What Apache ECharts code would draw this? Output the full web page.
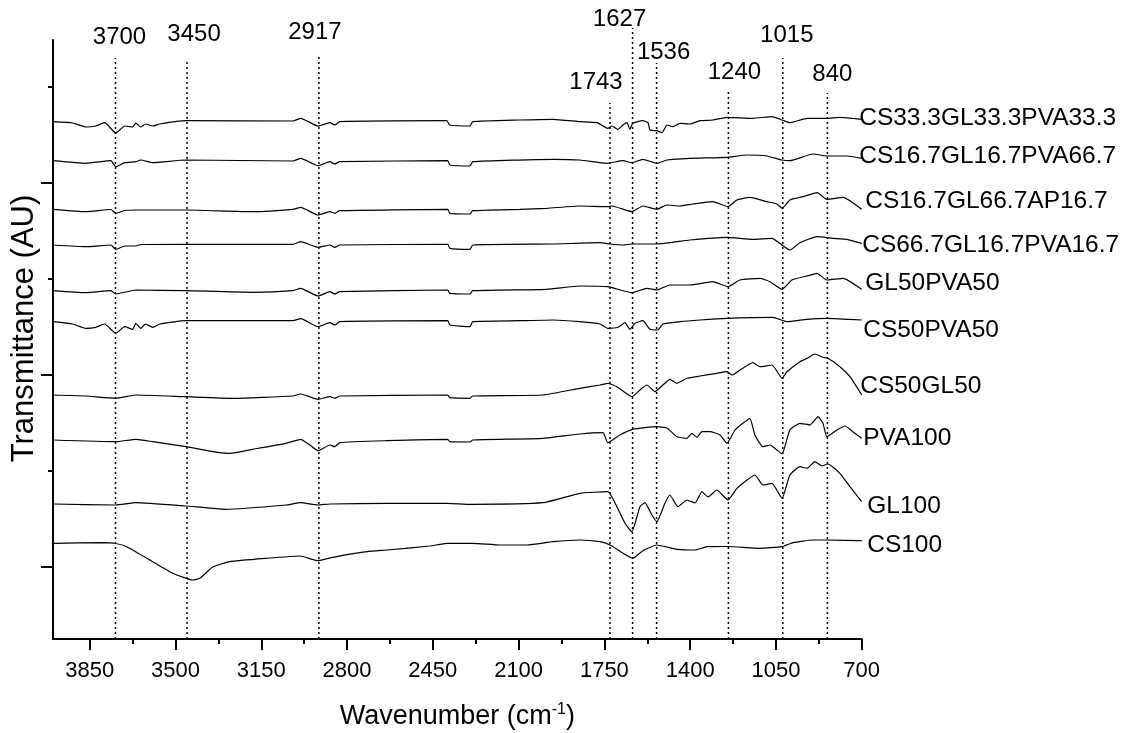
<!DOCTYPE html>
<html>
<head>
<meta charset="utf-8">
<script src="https://cdn.jsdelivr.net/npm/echarts@6/dist/echarts.min.js"></script>
<style>html,body{margin:0;padding:0;background:#fff}#c{width:1131px;height:733px}</style>
</head>
<body>
<div id="c"></div>
<script>
// ---- data (wavenumber cm-1, transmittance in stacked arbitrary units) ----
const seriesNames = ['CS33.3GL33.3PVA33.3','CS16.7GL16.7PVA66.7','CS16.7GL66.7AP16.7','CS66.7GL16.7PVA16.7','GL50PVA50','CS50PVA50','CS50GL50','PVA100','GL100','CS100'];

const cs333gl333pva333 = [[4000,445.3],[3920,444],[3866,440],[3826,441],[3789,444.3],[3744,434],[3707,441],[3675,440],[3662,444],[3642,440],[3622,443],[3593,441],[3564,443],[3458,446.3],[3021,446],[2989,448.7],[2919,441],[2870,444.3],[2850,442],[2830,445.3],[2393,446.3],[2381,442],[2299,441],[2287,445.3],[2095,447],[1960,447.7],[1850,445.3],[1780,444.3],[1736,438.7],[1719,441],[1695,437.7],[1674,442],[1658,444.3],[1646,437.7],[1634,443.7],[1593,446.3],[1572,444.3],[1564,437],[1536,436.3],[1515,434.3],[1495,442],[1470,440.3],[1442,443.7],[1401,443],[1360,446.3],[1307,447],[1250,449.7],[1144,448.7],[1066,450.3],[1025,447],[993,444.3],[923,448.7],[842,448.7],[789,449.7],[700,447.7]];

const cs167gl167pva667 = [[4000,406.3],[3866,403.7],[3764,406.3],[3744,400.3],[3707,404.3],[3662,405.3],[3642,407],[3593,404.3],[3458,407],[3021,406],[2989,408.7],[2919,401.3],[2870,405.3],[2850,403],[2830,405.3],[2389,406.3],[2381,402],[2299,401],[2287,405.3],[1960,407.7],[1850,407],[1740,403.7],[1674,406.3],[1638,404.3],[1593,407.7],[1536,403.7],[1495,407],[1401,408.7],[1250,409.7],[1168,412],[1087,411],[1025,407],[993,406.3],[899,413],[842,411],[760,411],[700,408.7]];

const cs167gl667ap167 = [[4000,357.7],[3866,355.3],[3764,357.5],[3744,353.7],[3707,356.5],[3662,357],[3458,357],[3185,355.3],[3021,357.7],[2989,359.7],[2919,352],[2870,355.3],[2850,353.7],[2830,356.3],[2389,357.7],[2381,353.7],[2299,353],[2287,356.3],[2095,357.7],[1985,358.7],[1850,361],[1736,360.3],[1719,361],[1638,355.3],[1593,361],[1536,357.7],[1495,362],[1442,361],[1389,363],[1307,365.3],[1246,360.3],[1209,367],[1156,369.7],[1087,365.3],[1046,363],[1025,358.7],[993,367],[940,370.3],[882,374.3],[842,367.7],[776,369.7],[700,357.7]];

const cs667gl167pva167 = [[4000,322],[3866,320.3],[3764,322],[3744,317.7],[3707,321],[3662,321],[3642,322.5],[3458,322.7],[3021,322.7],[2989,325.3],[2919,319.7],[2870,322],[2850,319.7],[2830,322],[2389,322.7],[2381,318.7],[2299,317.7],[2287,322],[1960,323],[1768,324.3],[1727,323],[1674,322],[1638,323],[1536,323],[1401,327],[1250,329.7],[1144,327.7],[1066,328.7],[1034,323.7],[993,317],[952,324.3],[882,330.3],[817,328.7],[760,327.7],[700,323.7]];

const gl50pva50 = [[4000,276.3],[3866,274.3],[3764,276.3],[3744,273],[3662,277],[3458,276.3],[3185,274.7],[3021,276.3],[2989,278.7],[2919,271],[2870,275.3],[2850,273],[2830,275.3],[2389,277],[2381,273.7],[2299,273],[2287,276.3],[1985,277.7],[1850,281],[1736,280.3],[1638,274.3],[1576,278.7],[1536,277],[1483,282],[1401,282],[1307,285.3],[1246,280.3],[1197,287],[1115,288.7],[1074,285.3],[1025,277.7],[985,287],[923,291],[882,293.7],[842,287],[776,288.7],[700,277.7]];

const cs50pva50 = [[4000,245.3],[3920,243],[3866,238.7],[3826,239.7],[3789,243],[3744,233.7],[3707,240.3],[3675,237.7],[3662,243.7],[3642,238.7],[3622,243],[3593,239.7],[3564,243],[3458,246.3],[3021,246.3],[2989,248.3],[2919,240.3],[2870,244.3],[2850,242],[2830,245.3],[2389,246.3],[2381,242],[2299,240.3],[2287,245.3],[2095,246.3],[1960,247],[1850,245.3],[1768,243],[1736,238.7],[1695,239.7],[1666,244.3],[1646,237.7],[1625,243.7],[1593,246.3],[1564,237.7],[1532,237],[1511,243],[1442,245.3],[1360,247],[1250,248.7],[1062,249.7],[1005,245.3],[923,247.7],[842,248.7],[700,247]];

const cs50gl50 = [[4000,172],[3866,171],[3744,168.7],[3662,172],[3458,170.3],[3266,168.7],[3021,171],[2989,173],[2919,167.7],[2870,170.3],[2850,168.7],[2830,171],[2389,172],[2381,169.3],[2299,168.7],[2287,171],[2001,172],[1850,178.7],[1768,182],[1736,183.7],[1699,180.3],[1638,170.3],[1597,178.7],[1576,182],[1544,175.3],[1511,182],[1483,187.7],[1454,183.7],[1413,188.7],[1360,191],[1291,193.7],[1250,195.3],[1229,192],[1197,197],[1144,204.3],[1115,200.3],[1066,202],[1025,188.7],[1005,195.3],[952,205.3],[923,208.7],[891,213],[858,209.7],[838,208.7],[789,200.3],[748,190.3],[700,172]];

const pva100 = [[4000,127],[3744,125.3],[3662,127.7],[3593,125.3],[3458,120.3],[3320,114.3],[3279,113.7],[3185,117.7],[3050,123.7],[2989,127.7],[2952,122],[2919,116.3],[2870,122],[2850,120.3],[2830,124.3],[2638,126.3],[2389,127.7],[2381,125.3],[2299,125],[2287,127],[2001,128.7],[1850,133],[1756,134.3],[1736,124.3],[1687,132],[1634,137.7],[1536,140.3],[1495,139],[1454,130.3],[1413,128.7],[1393,133.7],[1372,129.7],[1352,135.3],[1319,135.3],[1278,132],[1250,123.7],[1217,137],[1185,143.7],[1156,148.7],[1136,132],[1103,120.3],[1074,122],[1046,117],[1025,113],[993,137],[952,143.7],[911,142],[878,150.3],[858,143.7],[842,130.3],[801,137],[768,141],[736,135.3],[700,128.7]];

const gl100 = [[4000,63],[3744,62],[3662,64.3],[3458,61],[3295,57.7],[3050,62],[2989,64.3],[2919,62],[2870,63],[2638,63.7],[2389,63.7],[2299,62.7],[2001,64.3],[1850,73.7],[1736,75.3],[1699,60.3],[1666,43.7],[1638,35.3],[1605,60.3],[1585,64.3],[1556,52],[1536,45.3],[1503,63.7],[1483,72],[1450,60.3],[1413,67],[1380,64],[1352,75.3],[1327,70],[1291,77],[1246,67],[1209,78.7],[1168,87],[1136,92],[1103,82],[1066,83.7],[1025,68.7],[993,92],[952,100.3],[923,98.7],[891,105.3],[862,101],[838,103],[789,93.7],[748,80.3],[700,65.3]];

const cs100 = [[4000,23.7],[3797,24.3],[3744,23.5],[3699,20.3],[3605,7],[3511,-6.3],[3430,-13],[3401,-11.3],[3348,0],[3279,5.3],[3128,8.7],[2993,11],[2919,6.3],[2858,9.7],[2719,15.3],[2638,17],[2462,21],[2393,23.7],[2287,23.7],[2176,22],[2066,22],[1960,25.3],[1850,27],[1768,25.3],[1727,22],[1674,13.7],[1634,8.7],[1593,16.3],[1536,22],[1495,20],[1454,17.7],[1380,17],[1331,20.3],[1250,20.5],[1115,18.7],[1025,20.3],[980,24.3],[899,27],[838,27],[700,26.3]];

const xTicks = [700,1050,1400,1750,2100,2450,2800,3150,3500,3850];
const xMinorTicks = [875,1225,1575,1925,2275,2625,2975,3325,3675];
const yMajorTicks = [0,192,384];
const yMinorTicks = [96,288,480];

const peakPositions = [3745,3453,2915,1727,1635,1537,1244,1022,840];
const peakLabels = ['3700','3450','2917','1743','1627','1536','1240','1015','840'];
const peakTops = [509,507,513,464,539,504,477,509,474];

// ---- layout / style (not data) ----
const FONT = "'Liberation Sans', Arial, sans-serif";
const X_MIN = 700, X_MAX = 4000, Y_MIN = -72, Y_MAX = 527;
const peakLabelOffsets = [[4,-20.5],[7,-26],[-4,-22],[-14,-21],[-13,-9],[7,-11],[6,-18],[4,-23],[5,-19]];
const nameOffsets = [[-3,-1],[-3,-2],[3,-8],[0,2],[3,-6],[1,10],[-2,-8.5],[1,0],[5,5],[5,5]];

const allSeries = [cs333gl333pva333, cs167gl167pva667, cs167gl667ap167, cs667gl167pva167, gl50pva50, cs50pva50, cs50gl50, pva100, gl100, cs100];

const chart = echarts.init(document.getElementById('c'), null, {renderer: 'canvas'});

const lineSeries = allSeries.map((arr, i) => ({
  type: 'line', name: seriesNames[i], data: arr,
  xAxisIndex: 0, yAxisIndex: 0,
  showSymbol: false, symbol: 'none', smooth: 0.15, silent: true,
  lineStyle: {color: '#000', width: 1.2}, z: 2
}));

const option = {
  animation: false,
  backgroundColor: '#fff',
  grid: {left: 53, right: 269.3, top: 40, bottom: 94, containLabel: false, outerBoundsMode: 'none'},
  xAxis: [{
    type: 'value', min: X_MIN, max: X_MAX, inverse: true, position: 'bottom',
    axisLine: {onZero: false, lineStyle: {color: '#000', width: 2}},
    axisTick: {customValues: xTicks, length: 11, lineStyle: {color: '#000', width: 2}},
    axisLabel: {customValues: xTicks, fontSize: 22, fontFamily: FONT, color: '#000', margin: 20,
      formatter: v => '{t|' + v + '}',
      rich: {t: {fontSize: 22, fontFamily: FONT, color: '#000', lineHeight: 24}}},
    splitLine: {show: false},
    name: 'Wavenumber (cm{sup|-1})', nameLocation: 'middle', nameGap: 63,
    nameTextStyle: {fontSize: 27, fontFamily: FONT, color: '#000', lineHeight: 30,
      rich: {sup: {fontSize: 16, fontFamily: FONT, color: '#000', verticalAlign: 'top', lineHeight: 16}}}
  }, {
    type: 'value', min: X_MIN, max: X_MAX, inverse: true, position: 'bottom',
    axisLine: {show: false, onZero: false},
    axisTick: {customValues: xMinorTicks, length: 5, lineStyle: {color: '#000', width: 2}},
    axisLabel: {show: false}, splitLine: {show: false}
  }],
  yAxis: [{
    type: 'value', min: Y_MIN, max: Y_MAX, position: 'left',
    axisLine: {show: true, onZero: false, lineStyle: {color: '#000', width: 2}},
    axisTick: {customValues: yMajorTicks, length: 12, lineStyle: {color: '#000', width: 2}},
    axisLabel: {show: false}, splitLine: {show: false},
    name: 'Transmittance (AU)', nameLocation: 'middle', nameGap: 13,
    nameTextStyle: {fontSize: 31, fontFamily: FONT, color: '#000', padding: [0, 0, 0, 22]}
  }, {
    type: 'value', min: Y_MIN, max: Y_MAX, position: 'left',
    axisLine: {show: false, onZero: false},
    axisTick: {customValues: yMinorTicks, length: 5, lineStyle: {color: '#000', width: 2}},
    axisLabel: {show: false}, splitLine: {show: false}
  }],
  series: lineSeries.concat([{
    type: 'custom', name: 'peaks', clip: false, silent: true, z: 3,
    xAxisIndex: 0, yAxisIndex: 0,
    data: peakPositions.map((w, i) => [w, peakTops[i], i]),
    renderItem: function (params, api) {
      const i = api.value(2);
      const p0 = api.coord([api.value(0), Y_MIN]);
      const p1 = api.coord([api.value(0), api.value(1)]);
      const off = peakLabelOffsets[i];
      return {type: 'group', children: [
        {type: 'line', shape: {x1: p0[0], y1: p0[1], x2: p1[0], y2: p1[1]},
         style: {stroke: '#000', lineWidth: 1.5, lineDash: [2, 3]}},
        {type: 'text', x: p1[0] + off[0], y: p1[1] + off[1],
         style: {text: peakLabels[i], fontSize: 24, fontFamily: FONT, fill: '#000', align: 'center', verticalAlign: 'middle'}}
      ]};
    }
  }, {
    type: 'scatter', name: 'names', silent: true, z: 4,
    xAxisIndex: 0, yAxisIndex: 0, symbolSize: 1,
    itemStyle: {color: 'rgba(0,0,0,0)', opacity: 1},
    data: allSeries.map((arr, i) => ({value: arr[arr.length - 1], label: {offset: nameOffsets[i]}})),
    label: {show: true, position: 'right', distance: 0, fontSize: 24.5, fontFamily: FONT, color: '#000', opacity: 1,
      formatter: p => seriesNames[p.dataIndex]}
  }])
};
chart.setOption(option);
</script>
</body>
</html>
